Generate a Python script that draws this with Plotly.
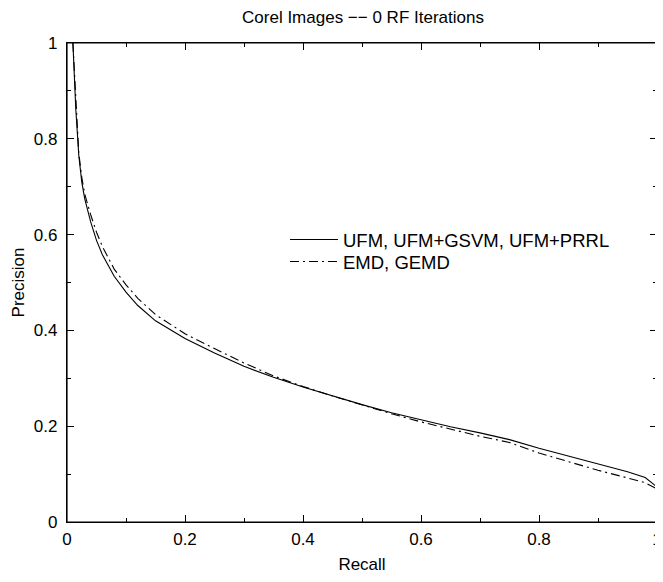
import plotly.graph_objects as go

recall = [0.01, 0.015, 0.02, 0.025, 0.03, 0.04, 0.05, 0.06, 0.08, 0.10, 0.12, 0.15,
          0.20, 0.25, 0.30, 0.35, 0.40, 0.45, 0.50, 0.55, 0.60, 0.65, 0.70, 0.75,
          0.80, 0.85, 0.90, 0.95, 0.98, 1.0]
prec_ufm = [1.0, 0.86, 0.765, 0.71, 0.675, 0.627, 0.588, 0.558, 0.513, 0.480, 0.452, 0.420,
            0.383, 0.353, 0.325, 0.302, 0.282, 0.263, 0.245, 0.228, 0.213, 0.199, 0.186, 0.172,
            0.154, 0.138, 0.121, 0.105, 0.093, 0.073]
prec_emd = [1.0, 0.87, 0.77, 0.72, 0.685, 0.642, 0.605, 0.575, 0.528, 0.495, 0.467, 0.433,
            0.393, 0.362, 0.332, 0.305, 0.283, 0.263, 0.244, 0.226, 0.209, 0.194, 0.179, 0.166,
            0.144, 0.126, 0.108, 0.092, 0.082, 0.069]
names = ["UFM, UFM+GSVM, UFM+PRRL", "EMD, GEMD"]

FONT = "Liberation Sans, Arial, Helvetica"

# figure is drawn 8px in from the page's top-left corner (default body margin)
W, H = 655, 566
L, R, T, B = 59, 6, 35, 52
PW, PH = W - L - R, H - T - B

fig = go.Figure()
fig.add_trace(go.Scatter(x=recall, y=prec_ufm, mode="lines", name=names[0], legend="legend",
                         line=dict(color="black", width=1.1)))
fig.add_trace(go.Scatter(x=recall, y=prec_emd, mode="lines", name=names[1], legend="legend2",
                         line=dict(color="black", width=1.1, dash="9px,4px,2px,4px")))

frame = dict(
    showline=True, linecolor="black", linewidth=1.2, mirror="allticks",
    ticks="inside", ticklen=7, tickcolor="black", tickwidth=1,
    showgrid=False, zeroline=False, range=[0, 1], dtick=0.2, tickformat="~g",
    automargin=False, ticklabeloverflow="allow",
    minor=dict(ticks="inside", ticklen=4, tickcolor="black", dtick=0.1, showgrid=False),
)
tickfont = dict(family=FONT, size=17, color="black")
titlefont = dict(family=FONT, size=17, color="black")
legfont = dict(family=FONT, size=18.5, color="black")

leg_x = (277 - L) / PW
fig.update_layout(
    width=W, height=H,
    paper_bgcolor="white", plot_bgcolor="white",
    margin=dict(l=L, r=R, t=T, b=B, pad=0),
    title=dict(text="Corel Images −− 0 RF Iterations", x=355 / W, xanchor="center",
               y=1 - 9 / H, yanchor="middle", yref="container",
               font=dict(family=FONT, size=17, color="black")),
    xaxis=dict(tickfont=tickfont, ticklabelstandoff=1,
               title=dict(text="Recall", standoff=12, font=titlefont), **frame),
    yaxis=dict(tickfont=tickfont, ticklabelstandoff=5,
               title=dict(text="Precision", standoff=4, font=titlefont), **frame),
    legend=dict(x=leg_x, y=(H - B - 232) / PH, xanchor="left", yanchor="middle",
                bgcolor="rgba(0,0,0,0)", itemwidth=48, font=legfont),
    legend2=dict(x=leg_x, y=(H - B - 254) / PH, xanchor="left", yanchor="middle",
                 bgcolor="rgba(0,0,0,0)", itemwidth=48, font=legfont),
    shapes=[dict(type="rect", xref="paper", yref="paper", x0=0, x1=1, y0=0, y1=1,
                 line=dict(color="black", width=1.2), layer="above")],
    showlegend=True,
)

fig.write_html("out.html")
